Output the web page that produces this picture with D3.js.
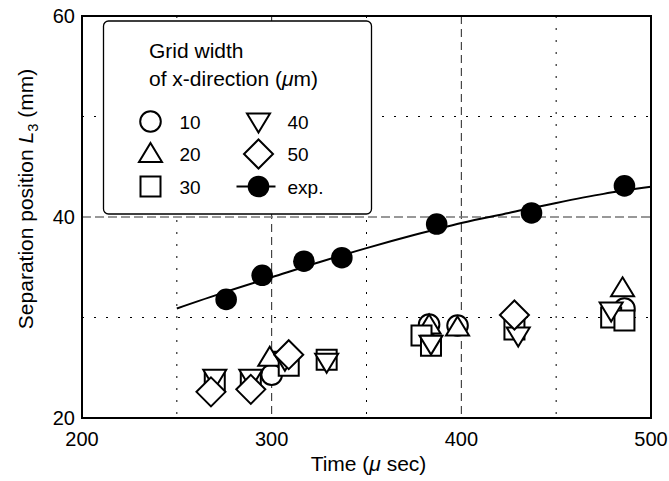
<!DOCTYPE html>
<html><head><meta charset="utf-8">
<script src="https://cdn.jsdelivr.net/npm/d3@7"></script>
<style>
body{margin:0;background:#fff}
text{font-family:"Liberation Sans",Arial,Helvetica,sans-serif;fill:#000}
</style>
</head><body>
<svg id="chart" width="669" height="481"></svg>
<script>
// ---- data ----
const xTicks = [200, 300, 400, 500];
const yTicks = [20, 40, 60];
const xMinorGrid = [250, 350, 450];
const xMajorGrid = [300, 400];
const yMinorGrid = [30, 50];
const yMajorGrid = [40];

const legendTitle = ["Grid width", "of x-direction ("];
const legendLabels = ["10", "20", "30", "40", "50", "exp."];

const w10Time = [300, 383, 398, 486];
const w10Pos  = [24.3, 29.3, 29.2, 30.9];
const w20Time = [299, 383, 398, 485];
const w20Pos  = [26.0, 29.2, 29.0, 32.9];
const w30Time = [270, 289, 309, 329, 379, 384, 428, 479, 486];
const w30Pos  = [23.6, 23.6, 25.2, 25.8, 28.2, 27.2, 28.8, 30.0, 29.7];
const w40Time = [270, 289, 307, 329, 384, 430, 479];
const w40Pos  = [24.0, 24.0, 25.8, 25.6, 27.4, 28.2, 30.7];
const w50Time = [268, 289, 309, 428];
const w50Pos  = [22.6, 22.85, 26.3, 30.25];

const expTime = [276, 295, 317, 337, 387, 437, 486];
const expPos  = [31.8, 34.2, 35.6, 35.95, 39.3, 40.4, 43.1];

const fitTime = [250, 275, 300, 325, 350, 375, 400, 425, 450, 475, 500];
const fitPos  = [30.9, 32.5, 34.0, 35.5, 36.9, 38.2, 39.4, 40.4, 41.4, 42.3, 43.0];

// ---- layout ----
const svg = d3.select("#chart");
const L = 82, R = 651, T = 16, B = 418;
const x = d3.scaleLinear().domain([200, 500]).range([L, R]);
const y = d3.scaleLinear().domain([20, 60]).range([B, T]);
const FS_TICK = 20, FS_LEG = 19, FS_TITLE = 21;

// symbol types
const symTypes = {
  circle: {draw(c){const r=10.3; c.moveTo(r,0); c.arc(0,0,r,0,2*Math.PI); c.closePath();}},
  up:     {draw(c){c.moveTo(0,-11); c.lineTo(11.5,8); c.lineTo(-11.5,8); c.closePath();}},
  square: {draw(c){const h=10; c.moveTo(-h,-h); c.lineTo(h,-h); c.lineTo(h,h); c.lineTo(-h,h); c.closePath();}},
  down:   {draw(c){c.moveTo(0,11); c.lineTo(11.5,-8); c.lineTo(-11.5,-8); c.closePath();}},
  diamond:{draw(c){const h=14.5; c.moveTo(0,-h); c.lineTo(h,0); c.lineTo(0,h); c.lineTo(-h,0); c.closePath();}},
  dot:    {draw(c){const r=10.8; c.moveTo(r,0); c.arc(0,0,r,0,2*Math.PI); c.closePath();}}
};

// grid
const g = svg.append("g");
g.selectAll(".vminor").data(xMinorGrid).join("line")
  .attr("x1", d => x(d)).attr("x2", d => x(d)).attr("y1", T).attr("y2", B)
  .attr("stroke", "#000").attr("stroke-width", 1).attr("stroke-dasharray", "2,10");
g.selectAll(".vmajor").data(xMajorGrid).join("line")
  .attr("x1", d => x(d)).attr("x2", d => x(d)).attr("y1", T).attr("y2", B)
  .attr("stroke", "#222").attr("stroke-width", 1).attr("stroke-dasharray", "8,5");
g.selectAll(".hminor").data(yMinorGrid).join("line")
  .attr("y1", d => y(d)).attr("y2", d => y(d)).attr("x1", L).attr("x2", R)
  .attr("stroke", "#000").attr("stroke-width", 1).attr("stroke-dasharray", "2,10");
g.selectAll(".hmajor").data(yMajorGrid).join("line")
  .attr("y1", d => y(d)).attr("y2", d => y(d)).attr("x1", L).attr("x2", R)
  .attr("stroke", "#777").attr("stroke-width", 1.5).attr("stroke-dasharray", "9,4");

// fit curve
const line = d3.line().x((d,i) => x(fitTime[i])).y(d => y(d)).curve(d3.curveMonotoneX);
svg.append("path").attr("d", line(fitPos)).attr("fill", "none")
  .attr("stroke", "#000").attr("stroke-width", 2);

// exp points
svg.append("g").selectAll("path").data(expPos).join("path")
  .attr("transform", (d,i) => `translate(${x(expTime[i])},${y(d)})`)
  .attr("d", d3.symbol().type(symTypes.dot)()).attr("fill", "#000");

// simulation series
const series = [
  {t: w10Time, v: w10Pos, s: "circle"},
  {t: w20Time, v: w20Pos, s: "up"},
  {t: w30Time, v: w30Pos, s: "square"},
  {t: w40Time, v: w40Pos, s: "down"},
  {t: w50Time, v: w50Pos, s: "diamond"}
];
series.forEach(se => {
  svg.append("g").selectAll("path").data(se.v).join("path")
    .attr("transform", (d,i) => `translate(${x(se.t[i])},${y(d)})`)
    .attr("d", d3.symbol().type(symTypes[se.s])())
    .attr("fill", "#fff").attr("stroke", "#000").attr("stroke-width", 2)
    .attr("stroke-linejoin", "miter");
});

// frame
svg.append("rect").attr("x", L).attr("y", T).attr("width", R - L).attr("height", B - T)
  .attr("fill", "none").attr("stroke", "#000").attr("stroke-width", 2);

// tick labels
svg.append("g").selectAll("text").data(yTicks).join("text")
  .attr("x", 75).attr("y", d => y(d) + 7).attr("text-anchor", "end")
  .attr("font-size", FS_TICK).text(d => d);
svg.append("g").selectAll("text").data(xTicks).join("text")
  .attr("x", d => x(d)).attr("y", 446).attr("text-anchor", "middle")
  .attr("font-size", FS_TICK).text(d => d);

// axis titles
const xt = svg.append("text").attr("x", (L + R) / 2 + 2).attr("y", 471)
  .attr("text-anchor", "middle").attr("font-size", FS_TITLE);
xt.append("tspan").text("Time (");
xt.append("tspan").attr("font-style", "italic").text("\u03bc");
xt.append("tspan").text(" sec)");

const yt = svg.append("text").attr("transform", "translate(33,199) rotate(-90)")
  .attr("text-anchor", "middle").attr("font-size", FS_TITLE);
yt.append("tspan").text("Separation position ");
yt.append("tspan").attr("font-style", "italic").text("L");
yt.append("tspan").attr("font-size", FS_TITLE * 0.7).attr("dy", 5).text("3");
yt.append("tspan").attr("dy", -5).text(" (mm)");

// legend
const lg = svg.append("g");
lg.append("rect").attr("x", 103.5).attr("y", 21).attr("width", 268).attr("height", 193)
  .attr("rx", 5).attr("fill", "#fff").attr("stroke", "#000").attr("stroke-width", 1.3);
lg.append("text").attr("x", 149).attr("y", 58).attr("font-size", FS_TITLE).text(legendTitle[0]);
const lt2 = lg.append("text").attr("x", 149).attr("y", 86).attr("font-size", FS_TITLE);
lt2.append("tspan").text(legendTitle[1]);
lt2.append("tspan").attr("font-style", "italic").text("\u03bc");
lt2.append("tspan").text("m)");

const legendSyms = ["circle", "up", "square", "down", "diamond", "dot"];
const colX = [150.5, 258.5], rowY = [121.5, 154, 186.5];
legendSyms.forEach((s, i) => {
  const cx = colX[Math.floor(i / 3)], cy = rowY[i % 3];
  if (s === "dot") {
    lg.append("line").attr("x1", cx - 22).attr("x2", cx + 17).attr("y1", cy).attr("y2", cy)
      .attr("stroke", "#000").attr("stroke-width", 2);
    lg.append("path").attr("transform", `translate(${cx},${cy})`)
      .attr("d", d3.symbol().type(symTypes.dot)()).attr("fill", "#000");
  } else {
    lg.append("path").attr("transform", `translate(${cx},${cy})`)
      .attr("d", d3.symbol().type(symTypes[s])())
      .attr("fill", "#fff").attr("stroke", "#000").attr("stroke-width", 2);
  }
  lg.append("text").attr("x", cx + 29).attr("y", cy + 7).attr("font-size", FS_LEG).text(legendLabels[i]);
});
</script>
</body></html>
